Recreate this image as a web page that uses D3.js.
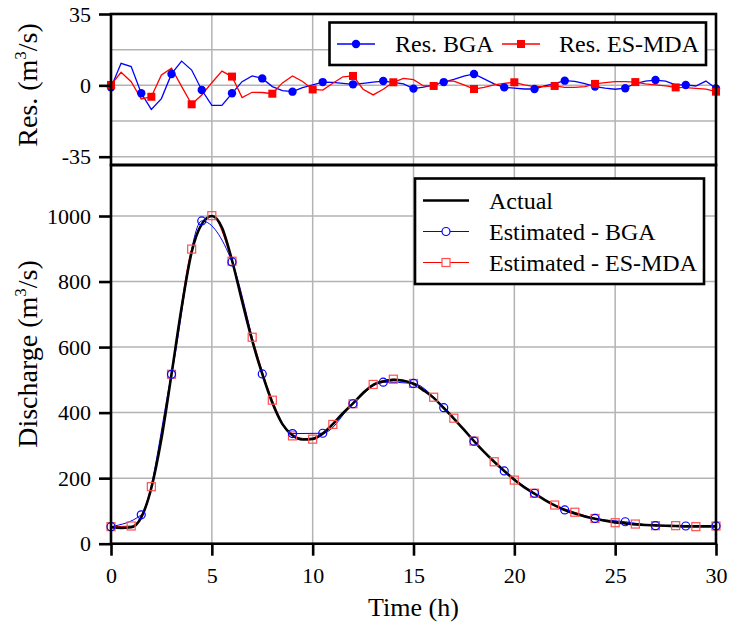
<!DOCTYPE html>
<html>
<head>
<meta charset="utf-8">
<script src="https://cdn.jsdelivr.net/npm/d3@7"></script>
<style>
  body { margin: 0; background: #fff; }
  svg, svg text { font-family: "Liberation Serif", "Times New Roman", serif; }
</style>
</head>
<body>
<script>
// time grid (h) for actual flow and residuals, every 0.5 h
const timeHalf = d3.range(0, 30.5, 0.5);

const actual = [50,48,50,80,170,320,517,720,890,975,1000,965,865,740,620,518,430,365,331,318,320,336,365,398,428,460,485,495,500,497,488,468,445,414,382,348,313,280,250,222,195,172,153,134,117,103,92,83,76,70,65,62,59,57,56,55,54,53,53,53,53];

const timeBGA = [0,1.5,3,4.5,6,7.5,9,10.5,12,13.5,15,16.5,18,19.5,21,22.5,24,25.5,27,28.5,30];
const estBGA = [52,88,517,985,860,518,336,337,427,493,489,415,313,222,154,103,77,67,55,54,54];

const timeES = [0,1,2,3,4,5,6,7,8,9,10,11,12,13,14,15,16,17,18,19,20,21,22,23,24,25,26,27,28,29,30];
const estES = [52,54,174,517,899,1001,862,630,438,329,319,364,427,486,502,489,447,383,313,250,194,154,118,96,77,64,60,55,55,52,54];

const resBGA = [-1,10.8,9.2,-3.9,-11.8,-6.5,5.6,11.9,7.5,-2.3,-9.8,-9.8,-3.9,1.8,4.6,3.4,-0.6,-2.6,-3.1,-1.1,0.2,1.6,1.5,1.0,0.5,1.0,1.6,2.1,1.5,0.7,-1.6,-0.9,0.2,1.6,2.9,4.5,5.6,3.2,0.7,-1.0,-1.4,-1.8,-1.8,-0.3,0.9,2.3,1.9,0.8,-0.6,-1.4,-1.9,-1.4,0.9,2.1,2.6,2.1,0.2,0.2,-0.3,2.1,-1.5];
const resES = [0.2,6.4,1.8,-6.7,-5.6,5.1,8.4,-0.5,-9.3,-4.7,1.3,7.0,4.3,-6.0,-3.4,-3.5,-4.1,1.2,4.6,1.9,-2.0,-2.3,1.0,4.2,4.6,-1.9,-4.7,-1.9,1.5,3.4,2.8,-0.3,-0.3,2.1,2.1,0.2,-1.8,-1.0,0.2,1.0,1.5,0.2,-0.6,-0.6,-0.3,-1.0,-1.0,-0.6,0.7,1.3,1.8,1.8,1.6,0.7,0.2,-0.3,-1.0,-1.1,-1.5,-1.9,-3.1];

const xTicks = [0,5,10,15,20,25,30];
const resTicks = [-35,0,35];
const resGrid = [-35,-17.5,0,17.5];
const qTicks = [0,200,400,600,800,1000];

const W = 729, H = 628;
const left = 111, right = 716;
const topRes = 14, split = 165, bottom = 543.7;

const svg = d3.select("body").append("svg")
    .attr("width", W).attr("height", H)
    .attr("viewBox", [0, 0, W, H]);

const x = d3.scaleLinear().domain([0, 30]).range([left, right]);
const yRes = d3.scaleLinear().domain([-35, 35]).range([156.7, topRes]);
const yQ = d3.scaleLinear().domain([0, 1000]).range([bottom, 216]);

const gridColor = "#b3b3b3";
const blue = "#0000ff", red = "#ff0000";

// ---- grids
const grid = svg.append("g").attr("stroke", gridColor).attr("stroke-width", 1.5);
grid.selectAll(".vx").data(xTicks.slice(1, -1)).join("line")
    .attr("x1", d => x(d)).attr("x2", d => x(d))
    .attr("y1", topRes).attr("y2", bottom);
grid.selectAll(".hr").data(resGrid).join("line").attr("class", "hr")
    .attr("x1", left).attr("x2", right)
    .attr("y1", d => yRes(d)).attr("y2", d => yRes(d));
grid.selectAll(".hq").data(qTicks.slice(1)).join("line").attr("class", "hq")
    .attr("x1", left).attr("x2", right)
    .attr("y1", d => yQ(d)).attr("y2", d => yQ(d));

// ---- residual panel
const resLine = d3.line().x((d, i) => x(timeHalf[i])).y(d => yRes(d));
svg.append("path").datum(resBGA)
    .attr("fill", "none").attr("stroke", blue).attr("stroke-width", 1.3)
    .attr("d", resLine);
svg.append("path").datum(resES)
    .attr("fill", "none").attr("stroke", red).attr("stroke-width", 1.3)
    .attr("d", resLine);

svg.append("g").selectAll("circle")
    .data(resBGA.map((v, i) => [timeHalf[i], v]).filter((d, i) => i % 3 === 0))
    .join("circle")
    .attr("cx", d => x(d[0])).attr("cy", d => yRes(d[1])).attr("r", 4.2)
    .attr("fill", blue);
svg.append("g").selectAll("rect")
    .data(resES.map((v, i) => [timeHalf[i], v]).filter((d, i) => i % 4 === 0))
    .join("rect")
    .attr("x", d => x(d[0]) - 4).attr("y", d => yRes(d[1]) - 4)
    .attr("width", 8).attr("height", 8)
    .attr("fill", red);

// ---- discharge panel
svg.append("path").datum(estBGA)
    .attr("fill", "none").attr("stroke", blue).attr("stroke-width", 1)
    .attr("d", d3.line().curve(d3.curveMonotoneX).x((d, i) => x(timeBGA[i])).y(d => yQ(d)));
svg.append("path").datum(estES)
    .attr("fill", "none").attr("stroke", red).attr("stroke-width", 1)
    .attr("d", d3.line().curve(d3.curveMonotoneX).x((d, i) => x(timeES[i])).y(d => yQ(d)));

svg.append("path").datum(actual)
    .attr("fill", "none").attr("stroke", "#000").attr("stroke-width", 2.6)
    .attr("d", d3.line().curve(d3.curveMonotoneX).x((d, i) => x(timeHalf[i])).y(d => yQ(d)));

svg.append("g").selectAll("rect")
    .data(estES)
    .join("rect")
    .attr("x", (d, i) => x(timeES[i]) - 4).attr("y", d => yQ(d) - 4)
    .attr("width", 8).attr("height", 8)
    .attr("fill", "none").attr("stroke", "#ff5050").attr("stroke-width", 1.2);
svg.append("g").selectAll("circle")
    .data(estBGA)
    .join("circle")
    .attr("cx", (d, i) => x(timeBGA[i])).attr("cy", d => yQ(d)).attr("r", 4)
    .attr("fill", "none").attr("stroke", blue).attr("stroke-width", 1.2);

// ---- frames
svg.append("rect")
    .attr("x", left).attr("y", topRes).attr("width", right - left).attr("height", split - topRes)
    .attr("fill", "none").attr("stroke", "#000").attr("stroke-width", 2.6);
svg.append("rect")
    .attr("x", left).attr("y", split).attr("width", right - left).attr("height", bottom - split)
    .attr("fill", "none").attr("stroke", "#000").attr("stroke-width", 2.6);

// ---- axes
function styleAxis(g) {
    g.attr("font-family", null).attr("font-size", null);
    g.select(".domain").remove();
    g.selectAll(".tick line").attr("stroke", "#000").attr("stroke-width", 2.6);
    g.selectAll(".tick text").attr("font-size", 22).attr("fill", "#000");
}
svg.append("g").attr("transform", `translate(${left},0)`)
    .call(d3.axisLeft(yRes).tickValues(resTicks).tickFormat(d => String(d)).tickSize(12).tickPadding(8))
    .call(styleAxis);
svg.append("g").attr("transform", `translate(${left},0)`)
    .call(d3.axisLeft(yQ).tickValues(qTicks).tickFormat(d => String(d)).tickSize(12).tickPadding(8))
    .call(styleAxis);
svg.append("g").attr("transform", `translate(0,${bottom})`)
    .call(d3.axisBottom(x).tickValues(xTicks).tickFormat(d => String(d)).tickSize(12).tickPadding(12))
    .call(styleAxis);

// ---- axis titles
svg.append("text")
    .attr("x", (left + right) / 2).attr("y", 616)
    .attr("text-anchor", "middle").attr("font-size", 26)
    .text("Time (h)");

function yTitle(label, cy) {
    const t = svg.append("text")
        .attr("transform", `translate(37,${cy}) rotate(-90)`)
        .attr("text-anchor", "middle").attr("font-size", 28);
    t.append("tspan").text(label + " (m");
    t.append("tspan").attr("font-size", 17).attr("dy", -11).text("3");
    t.append("tspan").attr("dy", 11).text("/s)");
}
yTitle("Res.", 85);
yTitle("Discharge", 354);

// ---- legend (residuals)
const lg1 = svg.append("g");
lg1.append("rect").attr("x", 329.5).attr("y", 22.5).attr("width", 376.5).attr("height", 42.5)
    .attr("fill", "#fff").attr("stroke", "#000").attr("stroke-width", 2.6);
lg1.append("line").attr("x1", 337).attr("x2", 375).attr("y1", 44).attr("y2", 44)
    .attr("stroke", blue).attr("stroke-width", 1.3);
lg1.append("circle").attr("cx", 356).attr("cy", 44).attr("r", 4.2).attr("fill", blue);
lg1.append("text").attr("x", 395).attr("y", 52).attr("font-size", 24).text("Res. BGA");
lg1.append("line").attr("x1", 502).attr("x2", 540).attr("y1", 44).attr("y2", 44)
    .attr("stroke", red).attr("stroke-width", 1.3);
lg1.append("rect").attr("x", 517).attr("y", 40).attr("width", 8).attr("height", 8).attr("fill", red);
lg1.append("text").attr("x", 559).attr("y", 52).attr("font-size", 24).text("Res. ES-MDA");

// ---- legend (discharge)
const lg2 = svg.append("g");
lg2.append("rect").attr("x", 415).attr("y", 178.5).attr("width", 289).attr("height", 105.5)
    .attr("fill", "#fff").attr("stroke", "#000").attr("stroke-width", 2.6);
const rows = [
    { label: "Actual", color: "#000", w: 2.6, mark: null },
    { label: "Estimated - BGA", color: blue, w: 1.2, mark: "circle" },
    { label: "Estimated - ES-MDA", color: red, w: 1.2, mark: "square" }
];
rows.forEach((r, i) => {
    const cy = 200.5 + i * 31;
    lg2.append("line").attr("x1", 423).attr("x2", 469).attr("y1", cy).attr("y2", cy)
        .attr("stroke", r.color).attr("stroke-width", r.w);
    if (r.mark === "circle")
        lg2.append("circle").attr("cx", 446).attr("cy", cy).attr("r", 4)
            .attr("fill", "#fff").attr("stroke", blue).attr("stroke-width", 1.2);
    if (r.mark === "square")
        lg2.append("rect").attr("x", 442).attr("y", cy - 4).attr("width", 8).attr("height", 8)
            .attr("fill", "#fff").attr("stroke", "#ff5050").attr("stroke-width", 1.2);
    lg2.append("text").attr("x", 489).attr("y", cy + 8).attr("font-size", 24).text(r.label);
});
</script>
</body>
</html>
